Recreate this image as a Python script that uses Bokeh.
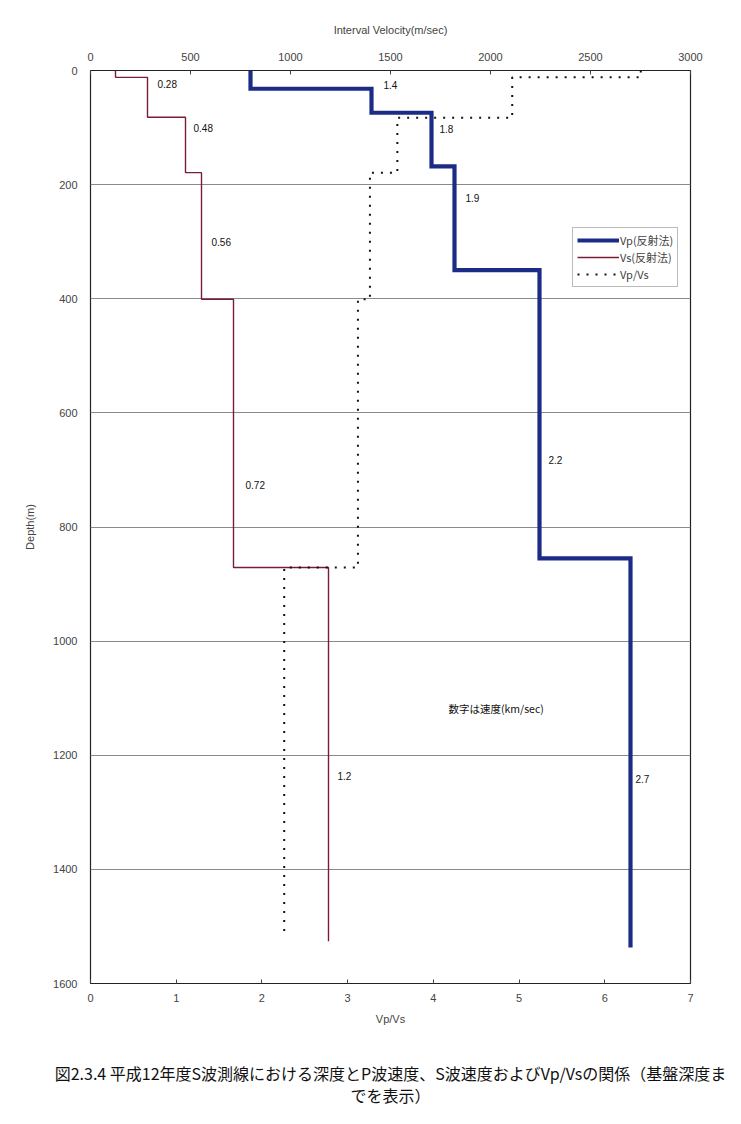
from bokeh.plotting import figure
from bokeh.models import Range1d, LinearAxis, Legend, LegendItem, Label, ColumnDataSource, Title
from bokeh.core.properties import value
from bokeh.embed import file_html
from bokeh.resources import INLINE

# ---- data ----
# Vp (reflection) interval velocity, m/s, with layer boundaries (m)
vp_depths = [0, 32, 74, 168, 350, 855, 1537]
vp_vel = [800, 1405, 1705, 1820, 2245, 2700]
# Vs (reflection) interval velocity, m/s
vs_depths = [0, 12, 82, 179, 401, 871, 1526]
vs_vel = [125, 285, 475, 555, 715, 1190]
# Vp/Vs ratio
ratio_depths = [0, 12, 83, 179, 401, 871, 1520]
ratio_vals = [6.42, 4.92, 3.58, 3.26, 3.12, 2.26]

# velocity annotations (km/s) and where they sit
note_text = ["0.28", "0.48", "0.56", "0.72", "1.2", "1.4", "1.8", "1.9", "2.2", "2.7"]
note_x = [335, 515, 605, 775, 1235, 1465, 1745, 1875, 2290, 2725]
note_y = [23, 100, 301, 727, 1236, 25, 102, 224, 683, 1241]

top_ticks = [0, 500, 1000, 1500, 2000, 2500, 3000]
bottom_ticks = [0, 1, 2, 3, 4, 5, 6, 7]
depth_ticks = [0, 200, 400, 600, 800, 1000, 1200, 1400, 1600]

caption = "図2.3.4 平成12年度S波測線における深度とP波速度、S波速度およびVp/Vsの関係（基盤深度ま\nでを表示）"


def step_path(depths, vals):
    xs, ys = [], []
    for i, v in enumerate(vals):
        xs += [v, v]
        ys += [depths[i], depths[i + 1]]
    return xs, ys


FONT = "Liberation Sans"
CJK = "Noto Sans CJK JP"

p = figure(output_backend="svg", toolbar_location=None,
           frame_width=600, frame_height=913,
           min_border_left=90, min_border_top=70, min_border_right=45, min_border_bottom=40,
           x_range=Range1d(0, 3000), y_range=Range1d(1600, 0),
           x_axis_location="above")
p.extra_x_ranges = {"ratio": Range1d(0, 7)}

p.background_fill_color = "white"
p.border_fill_color = "white"
p.outline_line_color = "#222222"
p.outline_line_width = 1.2

p.xgrid.visible = False
p.ygrid.grid_line_color = "#8a8a8a"
p.ygrid.grid_line_width = 1
p.ygrid.ticker = depth_ticks

# top axis
xa = p.xaxis[0]
xa.ticker = top_ticks
xa.axis_label = "Interval Velocity(m/sec)"
xa.axis_label_text_font = FONT
xa.axis_label_text_font_size = "11px"
xa.axis_label_text_font_style = "normal"
xa.axis_label_standoff = 14
xa.major_label_text_font = FONT
xa.major_label_text_font_size = "11px"
xa.major_label_standoff = 10
xa.major_tick_in = 4
xa.major_tick_out = 0
xa.minor_tick_line_color = None
xa.axis_line_color = None
xa.major_tick_line_color = "#444444"

# left axis
ya = p.yaxis[0]
ya.ticker = depth_ticks
ya.axis_label = "Depth(m)"
ya.axis_label_text_font = FONT
ya.axis_label_text_font_size = "11px"
ya.axis_label_text_font_style = "normal"
ya.axis_label_standoff = 14
ya.major_label_text_font = FONT
ya.major_label_text_font_size = "11px"
ya.major_label_standoff = 13
ya.major_tick_in = 0
ya.major_tick_out = 0
ya.minor_tick_line_color = None
ya.axis_line_color = None

# bottom axis for Vp/Vs
ba = LinearAxis(x_range_name="ratio", ticker=bottom_ticks, axis_label="Vp/Vs")
ba.axis_label_text_font = FONT
ba.axis_label_text_font_size = "11px"
ba.axis_label_text_font_style = "normal"
ba.axis_label_standoff = 8
ba.major_label_text_font = FONT
ba.major_label_text_font_size = "11px"
ba.major_label_standoff = 10
ba.major_tick_in = 4
ba.major_tick_out = 0
ba.minor_tick_line_color = None
ba.axis_line_color = None
ba.major_tick_line_color = "#444444"
p.add_layout(ba, "below")

# lines
vx, vy = step_path(vp_depths, vp_vel)
r_vp = p.line(vx, vy, line_color="#1c2c86", line_width=4.2, line_join="miter")
sx, sy = step_path(vs_depths, vs_vel)
r_vs = p.line(sx, sy, line_color="#7a1c34", line_width=1.4)
rx, ry = step_path(ratio_depths, ratio_vals)
r_ratio = p.line(rx, ry, x_range_name="ratio", line_color="#111111", line_width=2,
                 line_dash="2 7")

# annotations of velocities
src = ColumnDataSource(dict(x=note_x, y=note_y, t=note_text))
p.text(x="x", y="y", text="t", source=src, text_font=value(FONT),
       text_font_size="10px", text_align="left", text_baseline="middle", text_color="#111111")

p.add_layout(Label(x=1790, y=1118, text="数字は速度(km/sec)", text_font=CJK,
                   text_font_size="10.5px", text_align="left", text_baseline="middle",
                   text_color="#111111"))

legend = Legend(items=[LegendItem(label="Vp(反射法)", renderers=[r_vp]),
                       LegendItem(label="Vs(反射法)", renderers=[r_vs]),
                       LegendItem(label="Vp/Vs", renderers=[r_ratio])],
                location=(482, 696))
legend.label_text_font = CJK
legend.label_text_font_size = "11px"
legend.glyph_width = 42
legend.glyph_height = 14
legend.label_height = 14
legend.label_standoff = 1
legend.spacing = 1
legend.padding = 4
legend.margin = 0
legend.border_line_color = "#777777"
legend.border_line_width = 1
legend.background_fill_alpha = 1
p.add_layout(legend, "center")

# caption
t1 = Title(text=caption, text_font=CJK, text_font_size="16px", text_font_style="normal",
           align="center", text_align="center", text_line_height=0.95,
           text_color="#111111", standoff=62, offset=-8)
p.add_layout(t1, "below")

open("out.html", "w").write(file_html(p, INLINE))
